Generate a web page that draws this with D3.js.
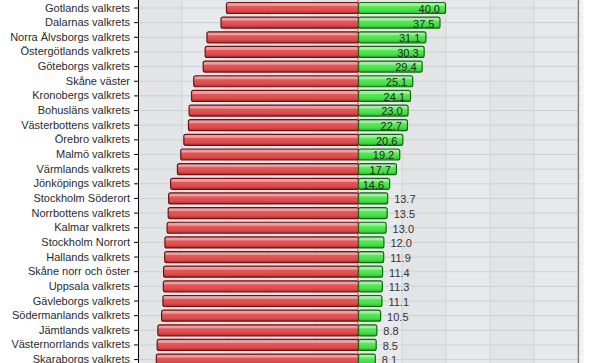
<!DOCTYPE html>
<html lang="sv">
<meta charset="utf-8">
<style>
  body { margin: 0; background: #fff; }
  svg { display: block; font-family: "Liberation Sans", Arial, sans-serif; }
</style>
<script src="https://cdnjs.cloudflare.com/ajax/libs/d3/7.8.5/d3.min.js"></script>
<body>
<div id="chart"></div>
<script>
// rows, top to bottom (first one sits above the visible area)
var names = ["Stockholms läns valkrets", "Gotlands valkrets", "Dalarnas valkrets", "Norra Älvsborgs valkrets",
  "Östergötlands valkrets", "Göteborgs valkrets", "Skåne väster", "Kronobergs valkrets",
  "Bohusläns valkrets", "Västerbottens valkrets", "Örebro valkrets", "Malmö valkrets",
  "Värmlands valkrets", "Jönköpings valkrets", "Stockholm Söderort", "Norrbottens valkrets",
  "Kalmar valkrets", "Stockholm Norrort", "Hallands valkrets", "Skåne norr och öster",
  "Uppsala valkrets", "Gävleborgs valkrets", "Södermanlands valkrets", "Jämtlands valkrets",
  "Västernorrlands valkrets", "Skaraborgs valkrets"];
var yes = [47.1, 40.0, 37.5, 31.1, 30.3, 29.4, 25.1, 24.1, 23.0, 22.7, 20.6, 19.2, 17.7,
  14.6, 13.7, 13.5, 13.0, 12.0, 11.9, 11.4, 11.3, 11.1, 10.5, 8.8, 8.5, 8.1];
var no = [52.9, 60.0, 62.5, 68.9, 69.7, 70.6, 74.9, 75.9, 77.0, 77.3, 79.4, 80.8, 82.3,
  85.4, 86.3, 86.5, 87.0, 88.0, 88.1, 88.6, 88.7, 88.9, 89.5, 91.2, 91.5, 91.9];
var xTicks = [-100, -80, -60, -40, -20, 0, 20, 40, 60, 80, 100];

var W = 600, H = 363;
var left = 138, right = 578;
var pitch = 14.65, firstCenter = -6.65;

var svg = d3.select("#chart").append("svg").attr("width", W).attr("height", H);
var defs = svg.append("defs");

function gloss(id, c) {
  var g = defs.append("linearGradient").attr("id", id)
    .attr("x1", 0).attr("y1", 0).attr("x2", 0).attr("y2", 1);
  c.forEach(function(s) { g.append("stop").attr("offset", s[0]).attr("stop-color", s[1]); });
}
gloss("gRed", [[0, "#d85454"], [0.1, "#eea0a0"], [0.28, "#eb9a9a"], [0.36, "#e25858"], [0.72, "#dc4c4c"], [1, "#b02c2c"]]);
gloss("gGreen", [[0, "#4cd84c"], [0.1, "#a4f0a4"], [0.28, "#9cee9c"], [0.36, "#58e858"], [0.72, "#48de48"], [1, "#2cb42c"]]);

var x = d3.scaleLinear().domain([-100, 100]).range([left, right]);
var y = d3.scaleBand().domain(names)
  .range([firstCenter - pitch / 2, firstCenter - pitch / 2 + pitch * names.length])
  .paddingInner(0.18).paddingOuter(0.09);
var bw = y.bandwidth();
function cy(d) { return y(d) + bw / 2; }

// plot background, alternating columns
for (var i = 0; i < xTicks.length - 1; i++) {
  svg.append("rect")
    .attr("x", x(xTicks[i])).attr("y", 0)
    .attr("width", x(xTicks[i + 1]) - x(xTicks[i])).attr("height", H)
    .attr("fill", i % 2 == 0 ? "#e3e4e6" : "#e7e9ec");
}

// grid
svg.append("g").selectAll("line").data(names).enter().append("line")
  .attr("x1", left).attr("x2", right)
  .attr("y1", function(d) { return cy(d); }).attr("y2", function(d) { return cy(d); })
  .attr("stroke", "#cfd0d2").attr("stroke-width", 1);
svg.append("g").selectAll("line").data(xTicks.slice(1, -1)).enter().append("line")
  .attr("x1", function(d) { return x(d); }).attr("x2", function(d) { return x(d); })
  .attr("y1", 0).attr("y2", H)
  .attr("stroke", "#d3d3d3");

// frame on the right
svg.append("line").attr("x1", right + 0.5).attr("x2", right + 0.5).attr("y1", 0).attr("y2", H)
  .attr("stroke", "#7a7a7a").attr("stroke-width", 1.5);
svg.append("rect").attr("x", right + 1.5).attr("y", 0).attr("width", 4).attr("height", H)
  .attr("fill", "#f2f2f2");

// zero line
svg.append("line").attr("x1", x(0)).attr("x2", x(0)).attr("y1", 0).attr("y2", H)
  .attr("stroke", "#ff3a3a").attr("stroke-width", 1);

var rows = names.map(function(n, i) { return {name: n, yes: yes[i], no: no[i]}; });

// red bars (negative side)
svg.append("g").selectAll("rect").data(rows).enter().append("rect")
  .attr("x", function(d) { return x(-d.no) + 0.5; })
  .attr("y", function(d) { return y(d.name) + 0.5; })
  .attr("width", function(d) { return x(0) - x(-d.no); })
  .attr("height", bw - 1)
  .attr("rx", 2)
  .attr("fill", "url(#gRed)")
  .attr("stroke", "#741010").attr("stroke-width", 1.2);

// green bars
svg.append("g").selectAll("rect").data(rows).enter().append("rect")
  .attr("x", function(d) { return x(0) + 0.5; })
  .attr("y", function(d) { return y(d.name) + 0.5; })
  .attr("width", function(d) { return x(d.yes) - x(0) - 1; })
  .attr("height", bw - 1)
  .attr("rx", 2)
  .attr("fill", "url(#gGreen)")
  .attr("stroke", "#0f6a0f").attr("stroke-width", 1.2);

// value labels on the green bars
svg.append("g").selectAll("text").data(rows).enter().append("text")
  .attr("x", function(d) { return d.yes > 14 ? x(d.yes) - 6 : x(d.yes) + 6; })
  .attr("y", function(d) { return cy(d.name) + 1; })
  .attr("dy", "0.35em")
  .attr("text-anchor", function(d) { return d.yes > 14 ? "end" : "start"; })
  .attr("font-size", "11px")
  .attr("fill", function(d) { return d.yes > 14 ? "#1e2a1e" : "#333"; })
  .text(function(d) { return d.yes.toFixed(1); });

// left axis
var ax = svg.append("g")
  .attr("transform", "translate(" + left + ",0)")
  .call(d3.axisLeft(y).tickSize(4).tickPadding(4).tickSizeOuter(0));
ax.select(".domain").attr("stroke", "#000");
ax.selectAll(".tick line").attr("stroke", "#000");
ax.selectAll("text")
  .attr("font-family", "'Liberation Sans', Arial, sans-serif")
  .attr("font-size", "11px")
  .attr("fill", "#2a2a2a");
</script>
</body>
</html>
